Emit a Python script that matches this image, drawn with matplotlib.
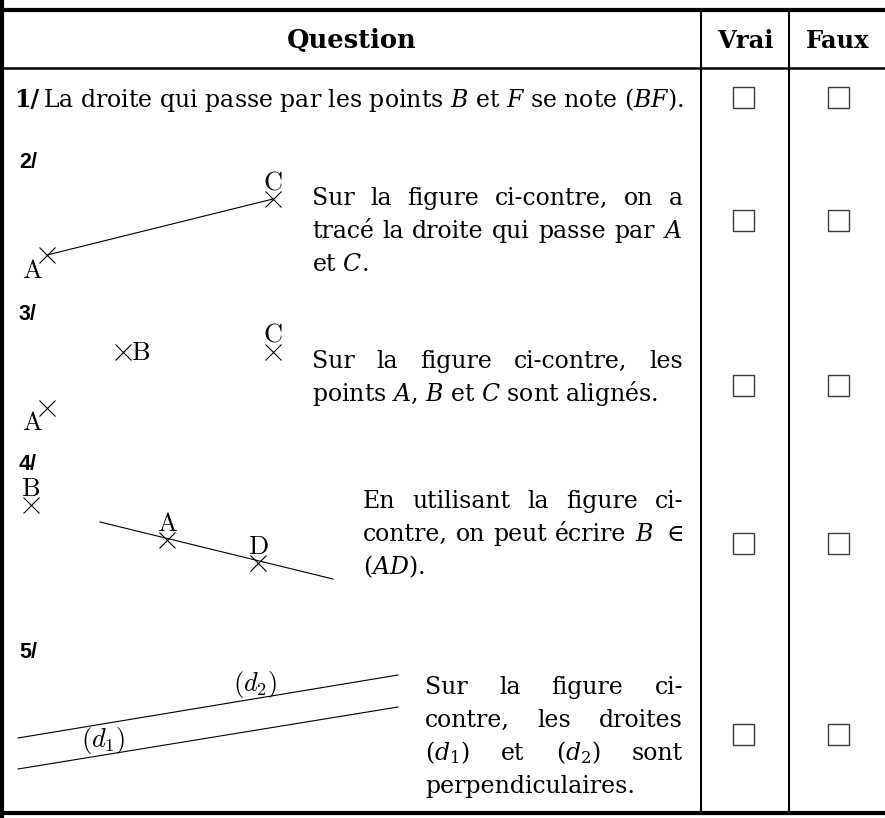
import matplotlib
matplotlib.use('Agg')
import matplotlib.pyplot as plt
from matplotlib.patches import Rectangle

plt.rcParams['mathtext.fontset'] = 'custom'
plt.rcParams['mathtext.rm'] = 'DejaVu Serif'
plt.rcParams['mathtext.it'] = 'DejaVu Serif:italic'
plt.rcParams['mathtext.bf'] = 'DejaVu Serif:bold'

# --- table content ---
headers = ['Question', 'Vrai', 'Faux']
numbers = ['1/', '2/', '3/', '4/', '5/']
q1_text = 'La droite qui passe par les points $B$ et $F$ se note $(BF)$.'
q2_lines = [['Sur', 'la', 'figure', 'ci-contre,', 'on', 'a'],
            ['tracé', 'la', 'droite', 'qui', 'passe', 'par', '$A$'],
            ['et $C$.']]
q3_lines = [['Sur', 'la', 'figure', 'ci-contre,', 'les'],
            ['points $A$, $B$ et $C$ sont alignés.']]
q4_lines = [['En', 'utilisant', 'la', 'figure', 'ci-'],
            ['contre,', 'on', 'peut', 'écrire', '$B$', r'$\in$'],
            ['$(AD)$.']]
q5_lines = [['Sur', 'la', 'figure', 'ci-'],
            ['contre,', 'les', 'droites'],
            ['$(d_1)$', 'et', '$(d_2)$', 'sont'],
            ['perpendiculaires.']]

# --- figure points (in pixel units of the sheet) ---
fig2_pts = {'A': (47, 255), 'C': (273, 199)}
fig3_pts = {'B': (123, 352), 'C': (273, 352), 'A': (47, 408)}
fig4_pts = {'B': (31, 505), 'A': (167, 540), 'D': (258, 563)}
fig4_line = [(100, 522), (333, 579)]
fig5_d1 = [(18, 769), (398, 707)]
fig5_d2 = [(18, 738), (398, 675)]

W, H = 885, 818
fig = plt.figure(figsize=(8.85, 8.18), dpi=100)
ax = fig.add_axes([0, 0, 1, 1])
ax.set_xlim(0, W)
ax.set_ylim(H, 0)
ax.axis('off')

FS = 17
SERIF = 'DejaVu Serif'
renderer = fig.canvas.get_renderer()


def justify(lines, x0, x1, y0, step=33):
    for i, words in enumerate(lines):
        y = y0 + i * step
        txts = [ax.text(x0, y, w, ha='left', va='baseline', fontsize=FS,
                        family=SERIF) for w in words]
        widths = [t.get_window_extent(renderer).width for t in txts]
        if len(words) == 1:
            continue
        gap = (x1 - x0 - sum(widths)) / (len(words) - 1)
        x = x0
        for t, w in zip(txts, widths):
            t.set_x(x)
            x += w + gap


# table lines
ax.plot([0, W], [10, 10], color='black', lw=3)
ax.plot([0, W], [68, 68], color='black', lw=1.8)
ax.plot([0, W], [813, 813], color='black', lw=3)
ax.plot([2, 2], [0, 818], color='black', lw=3)
for xc in [701, 789]:
    ax.plot([xc, xc], [10, 813], color='black', lw=1.5)

# headers
for h, xc, fs in zip(headers, [352, 745, 838], [18.5, 17.5, 17.5]):
    ax.text(xc, 48, h, ha='center', va='baseline', fontsize=fs,
            family=SERIF, weight='bold')

# row numbers
n1 = ax.text(14, 107, numbers[0], ha='left', va='baseline', fontsize=FS,
             family=SERIF, weight='bold')
for num, yb in zip(numbers[1:], [168, 320, 470, 658]):
    ax.text(19, yb, num, ha='left', va='baseline', fontsize=15.5,
            family='Liberation Sans', weight='bold')

# question texts
x_q1 = 14 + n1.get_window_extent(renderer).width + 4
ax.text(x_q1, 107, q1_text, ha='left', va='baseline', fontsize=FS, family=SERIF)
justify(q2_lines, 312, 683, 205)
justify(q3_lines, 312, 683, 368)
justify(q4_lines, 363, 683, 508)
justify(q5_lines, 425, 683, 694)

# checkboxes
for yc in [97.5, 220.5, 385, 543, 734.5]:
    for xc in [743.5, 838]:
        ax.add_patch(Rectangle((xc - 10.5, yc - 10.5), 21, 21, fill=False,
                               edgecolor='#3a3a3a', lw=1.0))

# figures
lab = dict(fontsize=19, math_fontfamily='cm', ha='center', va='center')
mk = dict(marker='x', color='black', ms=11, mew=0.8, ls='none')


def cross(p):
    ax.plot([p[0]], [p[1]], **mk)


# question 2
ax.plot([fig2_pts['A'][0], fig2_pts['C'][0]],
        [fig2_pts['A'][1], fig2_pts['C'][1]], color='black', lw=0.8)
for p in fig2_pts.values():
    cross(p)
ax.text(fig2_pts['A'][0] - 15, fig2_pts['A'][1] + 16, r'$\mathrm{A}$', **lab)
ax.text(fig2_pts['C'][0], fig2_pts['C'][1] - 16, r'$\mathrm{C}$', **lab)

# question 3
for p in fig3_pts.values():
    cross(p)
ax.text(fig3_pts['B'][0] + 8, fig3_pts['B'][1] + 1, r'$\mathrm{B}$',
        fontsize=19, math_fontfamily='cm', ha='left', va='center')
ax.text(fig3_pts['C'][0], fig3_pts['C'][1] - 17, r'$\mathrm{C}$', **lab)
ax.text(fig3_pts['A'][0] - 15, fig3_pts['A'][1] + 15, r'$\mathrm{A}$', **lab)

# question 4
ax.plot([fig4_line[0][0], fig4_line[1][0]],
        [fig4_line[0][1], fig4_line[1][1]], color='black', lw=0.8)
for name, p in fig4_pts.items():
    cross(p)
    ax.text(p[0], p[1] - 16, r'$\mathrm{%s}$' % name, **lab)

# question 5
for seg in [fig5_d1, fig5_d2]:
    ax.plot([seg[0][0], seg[1][0]], [seg[0][1], seg[1][1]],
            color='black', lw=0.8)
ax.text(255, 684, r'$(d_2)$', **lab)
ax.text(103, 741, r'$(d_1)$', **lab)

fig.savefig('out.png', dpi=100)
